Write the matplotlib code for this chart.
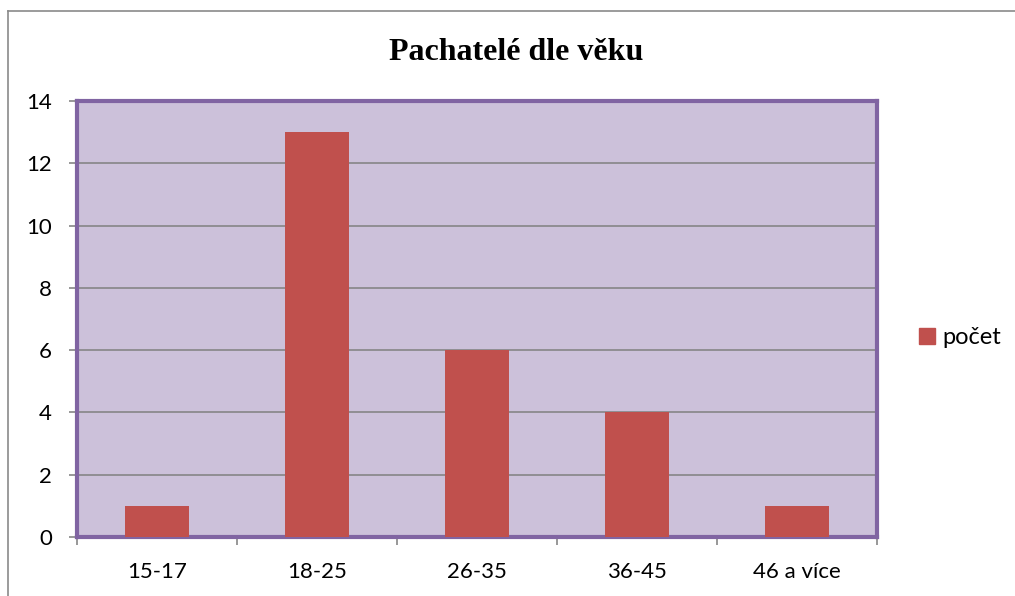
import matplotlib
matplotlib.use("Agg")
import matplotlib.pyplot as plt
from matplotlib.patches import Rectangle
from matplotlib.lines import Line2D

categories = ["15-17", "18-25", "26-35", "36-45", "46 a více"]
values = [1, 13, 6, 4, 1]
series_name = "počet"
title = "Pachatelé dle věku"
yticks = [0, 2, 4, 6, 8, 10, 12, 14]

W, H = 1015, 596
fig = plt.figure(figsize=(W / 100, H / 100), dpi=100)
fig.patch.set_facecolor("white")

# outer chart border (top and left visible)
fig.add_artist(Line2D([8 / W, 1], [1 - 11 / H, 1 - 11 / H], color="#8a8a8a", lw=1.2, transform=fig.transFigure))
fig.add_artist(Line2D([8 / W, 8 / W], [0, 1 - 11 / H], color="#8a8a8a", lw=1.2, transform=fig.transFigure))

left, right, top, bottom = 77, 877, 101, 537
ax = fig.add_axes([left / W, 1 - bottom / H, (right - left) / W, (bottom - top) / H])
ax.set_facecolor("#CCC1DA")

x = list(range(len(categories)))
ax.bar(x, values, width=0.4, color="#C0504D", zorder=3)
ax.set_xlim(-0.5, len(categories) - 0.5)
ax.set_ylim(0, 14)

ax.set_yticks(yticks)
ax.set_yticklabels([str(t) for t in yticks])
ax.yaxis.grid(True, color="#868686", lw=1.2, zorder=1)
ax.set_axisbelow(True)

ax.set_xticks(x)
ax.set_xticklabels(categories)
ax.set_xticks([i - 0.5 for i in range(len(categories) + 1)], minor=True)
ax.tick_params(axis="x", which="major", length=0, pad=18, labelsize=16)
ax.tick_params(axis="x", which="minor", length=6, color="#868686", width=1.2)
ax.tick_params(axis="y", length=6, color="#868686", width=1.2, pad=12, labelsize=16)
for lab in ax.get_xticklabels() + ax.get_yticklabels():
    lab.set_fontfamily("Lato")

for s in ax.spines.values():
    s.set_color("#8064A2")
    s.set_linewidth(3)

fig.text(516 / W, 1 - 52 / H, title, ha="center", va="center",
         fontfamily="Liberation Serif", fontweight="bold", fontsize=23)

# legend
leg_handle = Rectangle((0, 0), 1, 1, color="#C0504D")
fig.legend([leg_handle], [series_name], loc="center left",
           bbox_to_anchor=(898 / W, 1 - 338 / H), frameon=False,
           prop={"family": "Lato", "size": 17}, handlelength=0.65, handleheight=0.65,
           handletextpad=0.35)

fig.savefig("out.png", dpi=100)
